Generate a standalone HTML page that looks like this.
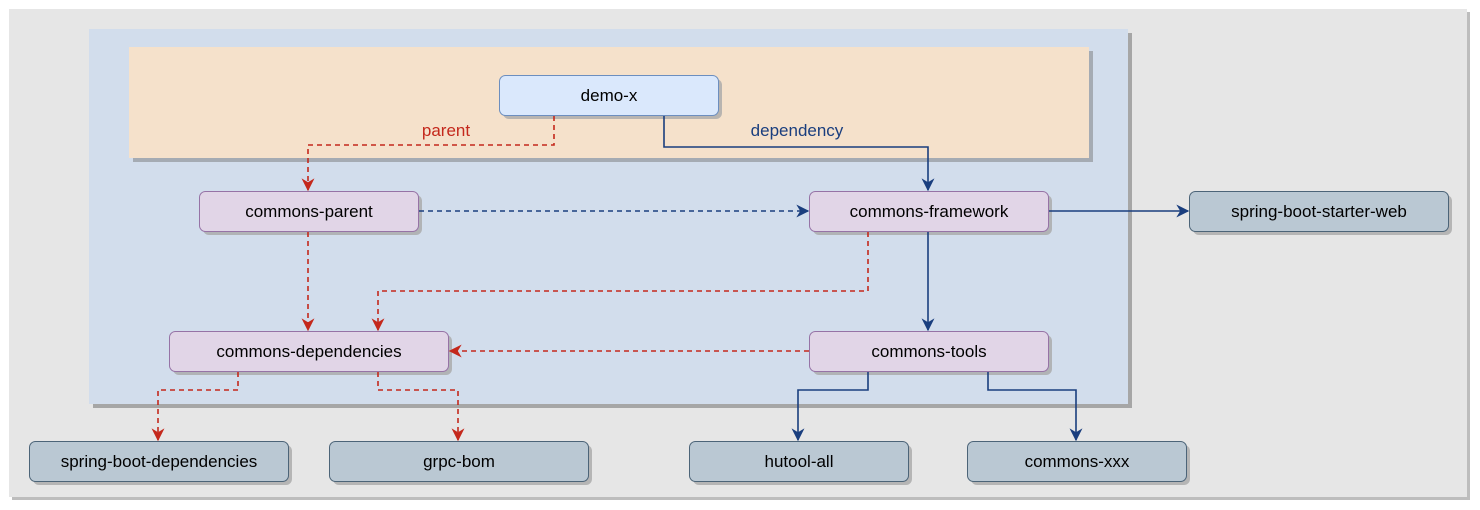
<!DOCTYPE html>
<html><head><meta charset="utf-8"><style>
html,body{margin:0;padding:0;background:#fff;}
svg{display:block;}
text{font-family:"Liberation Sans",Arial,sans-serif;font-size:17px;}
</style></head><body>
<svg width="1480" height="510" viewBox="0 0 1480 510" xmlns="http://www.w3.org/2000/svg">
<defs>
<marker id="ar" viewBox="0 0 10 10" refX="9" refY="5" markerWidth="13" markerHeight="13" orient="auto" markerUnits="userSpaceOnUse"><path d="M0,0 L10,5 L0,10 L3,5 Z" fill="#c4281c"/></marker>
<marker id="ab" viewBox="0 0 10 10" refX="9" refY="5" markerWidth="13" markerHeight="13" orient="auto" markerUnits="userSpaceOnUse"><path d="M0,0 L10,5 L0,10 L3,5 Z" fill="#1a3e7e"/></marker>
</defs>
<rect x="12" y="12" width="1458" height="488" fill="#bdbdbd"/>
<rect x="9" y="9" width="1458" height="488" fill="#e6e6e6"/>
<rect x="93" y="33" width="1039" height="375" fill="#a6a6a6"/>
<rect x="89" y="29" width="1039" height="375" fill="#d2ddec"/>
<rect x="133" y="51" width="960" height="111" fill="#a5abb3"/>
<rect x="129" y="47" width="960" height="111" fill="#f5e1cb"/>
<g stroke-width="1">
<g fill="#a9a9a9" opacity="0.8">
<rect x="503" y="79" width="219" height="40" rx="6"/>
<rect x="203" y="195" width="219" height="40" rx="6"/>
<rect x="813" y="195" width="239" height="40" rx="6"/>
<rect x="1193" y="195" width="259" height="40" rx="6"/>
<rect x="173" y="335" width="279" height="40" rx="6"/>
<rect x="813" y="335" width="239" height="40" rx="6"/>
<rect x="33" y="445" width="259" height="40" rx="6"/>
<rect x="333" y="445" width="259" height="40" rx="6"/>
<rect x="693" y="445" width="219" height="40" rx="6"/>
<rect x="971" y="445" width="219" height="40" rx="6"/>
</g>
<rect x="499.5" y="75.5" width="219" height="40" rx="6" fill="#dae8fc" stroke="#6c8ebf"/>
<rect x="199.5" y="191.5" width="219" height="40" rx="6" fill="#e1d5e7" stroke="#9673a6"/>
<rect x="809.5" y="191.5" width="239" height="40" rx="6" fill="#e1d5e7" stroke="#9673a6"/>
<rect x="169.5" y="331.5" width="279" height="40" rx="6" fill="#e1d5e7" stroke="#9673a6"/>
<rect x="809.5" y="331.5" width="239" height="40" rx="6" fill="#e1d5e7" stroke="#9673a6"/>
<g fill="#bac8d3" stroke="#4c6478">
<rect x="1189.5" y="191.5" width="259" height="40" rx="6"/>
<rect x="29.5" y="441.5" width="259" height="40" rx="6"/>
<rect x="329.5" y="441.5" width="259" height="40" rx="6"/>
<rect x="689.5" y="441.5" width="219" height="40" rx="6"/>
<rect x="967.5" y="441.5" width="219" height="40" rx="6"/>
</g>
</g>
<g fill="none" stroke-width="1.6">
<g stroke="#c4281c" stroke-dasharray="5,4" marker-end="url(#ar)">
<path d="M554,116 V145 H308 V190"/>
<path d="M308,232 V330"/>
<path d="M868,232 V291 H378 V330"/>
<path d="M809,351 H450"/>
<path d="M238,372 V390 H158 V440"/>
<path d="M378,372 V390 H458 V440"/>
</g>
<path d="M419,211 H808" stroke="#1a3e7e" stroke-dasharray="5,4" marker-end="url(#ab)"/>
<g stroke="#1a3e7e" marker-end="url(#ab)">
<path d="M664,116 V147 H928 V190"/>
<path d="M1049,211 H1188"/>
<path d="M928,232 V330"/>
<path d="M868,372 V390 H798 V440"/>
<path d="M988,372 V390 H1076 V440"/>
</g>
</g>
<rect x="416" y="121" width="60" height="18" fill="#f5e1cb"/>
<text x="446" y="136" fill="#c4281c" font-size="15" text-anchor="middle">parent</text>
<text x="797" y="136" fill="#1a3e7e" font-size="15" text-anchor="middle">dependency</text>
<g fill="#000" text-anchor="middle">
<text x="609" y="101">demo-x</text>
<text x="309" y="217">commons-parent</text>
<text x="929" y="217">commons-framework</text>
<text x="1319" y="217">spring-boot-starter-web</text>
<text x="309" y="357">commons-dependencies</text>
<text x="929" y="357">commons-tools</text>
<text x="159" y="467">spring-boot-dependencies</text>
<text x="459" y="467">grpc-bom</text>
<text x="799" y="467">hutool-all</text>
<text x="1077" y="467">commons-xxx</text>
</g>
</svg>
</body></html>
